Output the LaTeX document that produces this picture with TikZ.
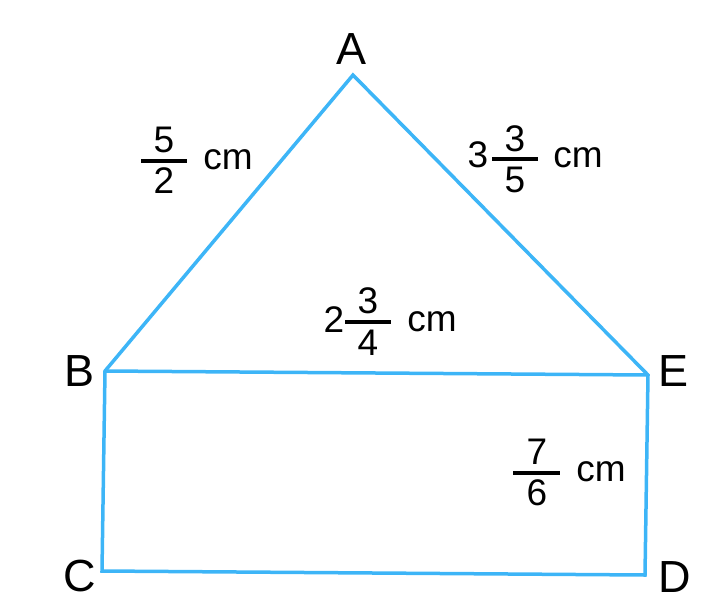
\documentclass[tikz,border=0pt]{standalone}
\usepackage{fontspec}
\setmainfont{Liberation Sans}
\definecolor{edgeblue}{HTML}{3DB5F7}
\begin{document}
\begin{tikzpicture}[x=1pt,y=-1pt,
  edge/.style={draw=edgeblue,line width=3.5pt,line join=miter,line cap=round},
  vlabel/.style={inner sep=0pt,font=\fontsize{45}{48}\selectfont},
  num/.style={inner sep=0pt,font=\fontsize{37}{40}\selectfont},
  fbar/.style={draw=black,line width=3.5pt}]
\useasboundingbox (0,0) rectangle (723,614);
\coordinate (A) at (353,75);
\coordinate (B) at (105,371);
\coordinate (E) at (648,375);
\coordinate (C) at (102,571);
\coordinate (D) at (645,575);
\draw[edge] (B) -- (A) -- (E) -- (D) -- (C) -- cycle;
\draw[edge] (B) -- (E);
\node[vlabel] (lA) at (352,49) {A};
\node[vlabel] (lB) at (80,371) {B};
\node[vlabel] (lE) at (673,371) {E};
\node[vlabel] (lC) at (80,576) {C};
\node[vlabel] (lD) at (675,577) {D};
% 5/2 cm
\node[num] (n1) at (164,140) {5};
\coordinate (b1l) at (141,161); \coordinate (b1r) at (187,161);
\draw[fbar] (b1l) -- (b1r);
\node[num] (d1) at (164,181) {2};
\node[num,anchor=base] (c1) at (228,169) {cm};
% 3 3/5 cm
\node[num] (w2) at (478,155) {3};
\node[num] (n2) at (515,139) {3};
\coordinate (b2l) at (492,159); \coordinate (b2r) at (538,159);
\draw[fbar] (b2l) -- (b2r);
\node[num] (d2) at (515,180) {5};
\node[num,anchor=base] (c2) at (578,167) {cm};
% 2 3/4 cm
\node[num] (w3) at (334,320) {2};
\node[num] (n3) at (368,301) {3};
\coordinate (b3l) at (345,322); \coordinate (b3r) at (391,322);
\draw[fbar] (b3l) -- (b3r);
\node[num] (d3) at (368,343) {4};
\node[num,anchor=base] (c3) at (432,331) {cm};
% 7/6 cm
\node[num] (n4) at (537,452) {7};
\coordinate (b4l) at (513,473); \coordinate (b4r) at (560,473);
\draw[fbar] (b4l) -- (b4r);
\node[num] (d4) at (537,493) {6};
\node[num,anchor=base] (c4) at (601,481) {cm};
\end{tikzpicture}
\end{document}
